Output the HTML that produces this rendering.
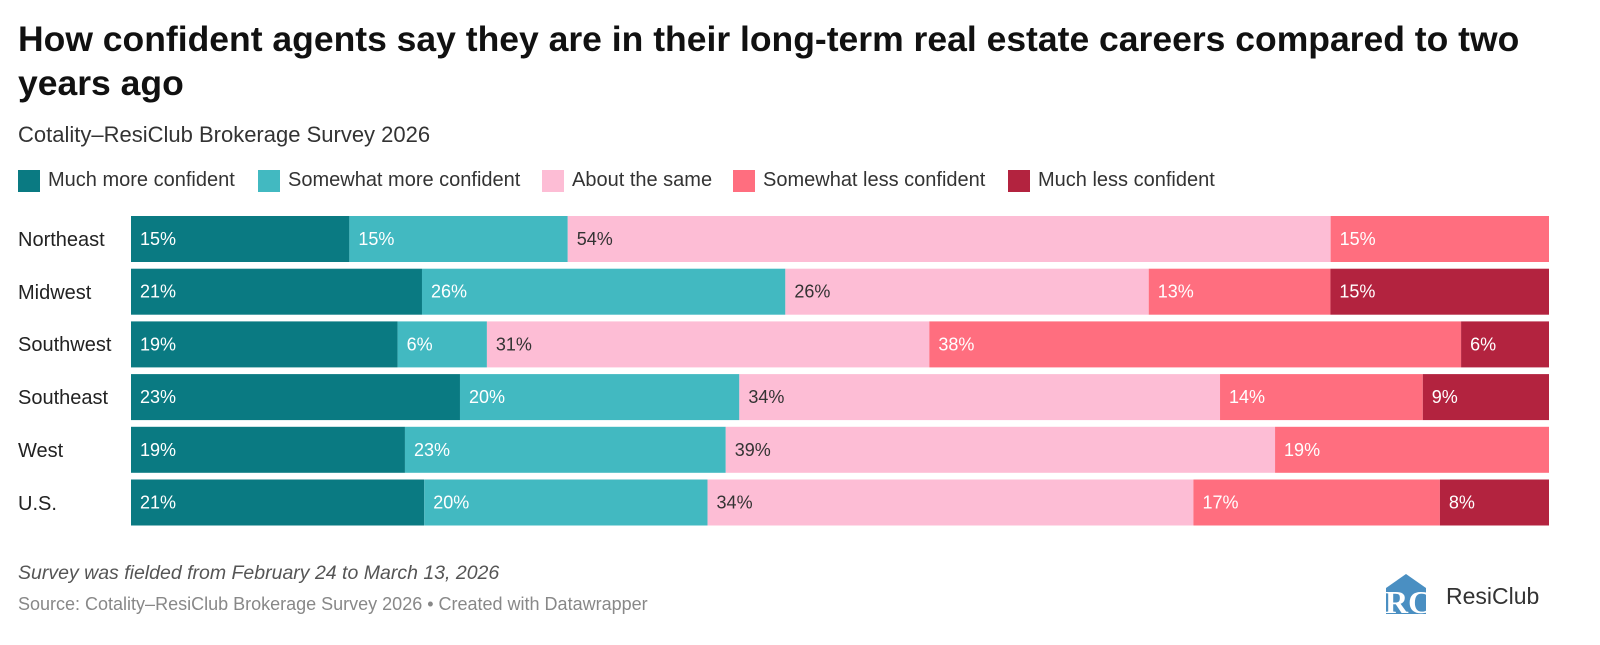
<!DOCTYPE html>
<html><head><meta charset="utf-8"><style>
body{margin:0;width:1600px;height:645px;background:#fff;font-family:"Liberation Sans",sans-serif;position:relative;overflow:hidden}
.abs{position:absolute}
h1{position:absolute;left:18px;top:17px;margin:0;font-size:35.5px;line-height:44px;font-weight:bold;color:#111;width:1580px;white-space:nowrap}
.sub{left:18px;top:122px;font-size:22px;color:#333}
.leg{top:169px;font-size:20px;color:#333;display:flex;align-items:center}
.leg i{display:inline-block;width:22px;height:22px;margin-right:8px}
.lab{left:18px;font-size:20px;color:#222}
.note{left:18px;top:562px;font-size:19.5px;font-style:italic;color:#555}
.src{left:18px;top:594px;font-size:18px;color:#888}
</style></head><body>
<h1>How confident agents say they are in their long-term real estate careers compared to two<br>years ago</h1>
<div class="abs sub">Cotality–ResiClub Brokerage Survey 2026</div>
<div id="legend"></div>
<svg id="chart" class="abs" style="left:0;top:0" width="1600" height="645"></svg>
<div class="abs note">Survey was fielded from February 24 to March 13, 2026</div>
<div class="abs src">Source: Cotality–ResiClub Brokerage Survey 2026 • Created with Datawrapper</div>
<div class="abs" style="left:1384px;top:572px">
<svg width="175" height="44"><path d="M2 16 L22 2 L42 16 L42 42 L2 42Z" fill="#4a8fc2"/><text x="1" y="41" font-family="Liberation Serif" font-size="32" font-weight="bold" fill="#fff">RC</text><text x="62" y="32" font-size="23" fill="#333" font-family="Liberation Sans">ResiClub</text></svg></div>
<script>
const categories=["Northeast","Midwest","Southwest","Southeast","West","U.S."];
const seriesNames=["Much more confident","Somewhat more confident","About the same","Somewhat less confident","Much less confident"];
const muchMore=[15.4,20.5,18.8,23.2,19.3,20.7];
const somewhatMore=[15.4,25.6,6.3,19.7,22.6,20.0];
const aboutSame=[53.8,25.6,31.2,33.9,38.7,34.3];
const somewhatLess=[15.4,12.8,37.5,14.3,19.3,17.4];
const muchLess=[0,15.4,6.2,8.9,0,7.7];
const colors=["#0a7a82","#42b9c1","#fdbdd5","#ff6e7f","#b3233f"];
const textCol=["#fff","#fff","#333","#fff","#fff"];
const series=[muchMore,somewhatMore,aboutSame,somewhatLess,muchLess];
const x0=131,x1=1549,yTop=216,pitch=52.7,bh=46;
const svg=document.getElementById('chart');const NS="http://www.w3.org/2000/svg";
const leg=document.getElementById('legend');
const legX=[18,258,542,733,1008];
seriesNames.forEach((n,i)=>{const d=document.createElement('div');d.className='abs leg';d.style.left=legX[i]+'px';


d.innerHTML='<i style="background:'+colors[i]+'"></i>'+n;leg.appendChild(d);});
categories.forEach((c,r)=>{
 const y=yTop+r*pitch;
 const l=document.createElement('div');l.className='abs lab';l.style.top=(y+13)+'px';l.textContent=c;
 
 
 document.body.appendChild(l);
 const tot=series.reduce((s,a)=>s+a[r],0);let x=x0;
 series.forEach((a,i)=>{const v=a[r];if(v<=0)return;const w=v/tot*(x1-x0);
  const rect=document.createElementNS(NS,'rect');rect.setAttribute('x',x);rect.setAttribute('y',y);rect.setAttribute('width',w);rect.setAttribute('height',bh);rect.setAttribute('fill',colors[i]);
  
  
  svg.appendChild(rect);
  const t=document.createElementNS(NS,'text');t.setAttribute('x',x+9);t.setAttribute('y',y+bh/2+6);t.setAttribute('font-size','18');t.setAttribute('fill',textCol[i]);t.textContent=Math.round(v)+'%';
  
  
  svg.appendChild(t);x+=w;});
});
</script>
</body></html>
